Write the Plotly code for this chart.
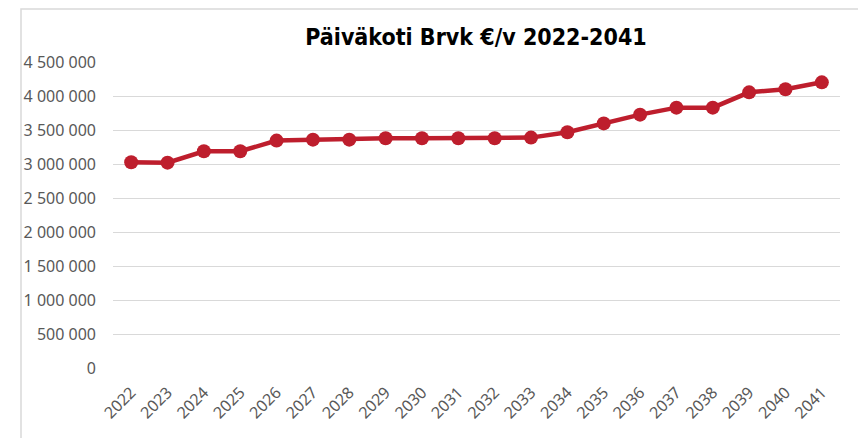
import plotly.graph_objects as go

years = [str(y) for y in range(2022, 2042)]
values = [3025000, 3020000, 3187000, 3187000, 3344000, 3358000, 3358000,
          3378000, 3378000, 3378000, 3378000, 3388000, 3466000, 3597000,
          3726000, 3829000, 3829000, 4054000, 4099000, 4201000]
y_ticks = [0, 500000, 1000000, 1500000, 2000000, 2500000, 3000000,
           3500000, 4000000, 4500000]
y_labels = ["0", "500 000", "1 000 000", "1 500 000", "2 000 000",
            "2 500 000", "3 000 000", "3 500 000", "4 000 000", "4 500 000"]
title_text = "Päiväkoti Brvk €/v 2022-2041"

red = "#BE1E2D"
grid = "#D9D9D9"
label_col = "#595959"

fig = go.Figure()
fig.add_trace(go.Scatter(
    x=years, y=values, mode="lines+markers",
    line=dict(color=red, width=4.5),
    marker=dict(color=red, size=14),
    hoverinfo="x+y",
))

# page has an 8px body margin; work in figure coordinates
OFF = 8
W, H = 866 - OFF, 438 - OFF
ml, mr, mt, mb = 113 - OFF, 26, 62 - OFF, 70
pw = W - ml - mr
ph = H - mt - mb

def px_to_paper_x(px):
    return (px - OFF - ml) / pw

def px_to_paper_y(py):
    return (H - mb - (py - OFF)) / ph

fig.update_layout(
    width=W, height=H,
    margin=dict(l=ml, r=mr, t=mt, b=mb, pad=0, autoexpand=False),
    paper_bgcolor="white", plot_bgcolor="white",
    showlegend=False,
    title=dict(
        text=title_text,
        x=px_to_paper_x(476), xref="paper", xanchor="center",
        y=1 - (37 - OFF) / H, yref="container", yanchor="middle",
        automargin=False,
        font=dict(family="DejaVu Sans Condensed, Liberation Sans Narrow, sans-serif",
                  size=23, color="black", weight=700),
    ),
    xaxis=dict(
        type="category", range=[-0.5, len(years) - 0.5],
        showgrid=False, zeroline=False, showline=False,
        tickangle=-45, ticks="", automargin=False,
        tickfont=dict(family="Noto Sans, sans-serif", size=16, color=label_col),
        ticklabelstandoff=11,
        fixedrange=True,
    ),
    yaxis=dict(
        range=[0, 4500000], automargin=False,
        tickvals=y_ticks, ticktext=y_labels,
        showgrid=True, gridcolor=grid, gridwidth=1,
        zeroline=False, showline=False, ticks="",
        tickfont=dict(family="Noto Sans, sans-serif", size=16, color=label_col),
        ticklabelstandoff=16,
        fixedrange=True,
    ),
    shapes=[dict(
        type="rect", xref="paper", yref="paper",
        x0=px_to_paper_x(21), x1=px_to_paper_x(880),
        y0=px_to_paper_y(450), y1=px_to_paper_y(OFF + 1),
        line=dict(color=grid, width=1.5), fillcolor="rgba(0,0,0,0)",
        layer="below",
    )],
)

fig.write_html("out.html")
